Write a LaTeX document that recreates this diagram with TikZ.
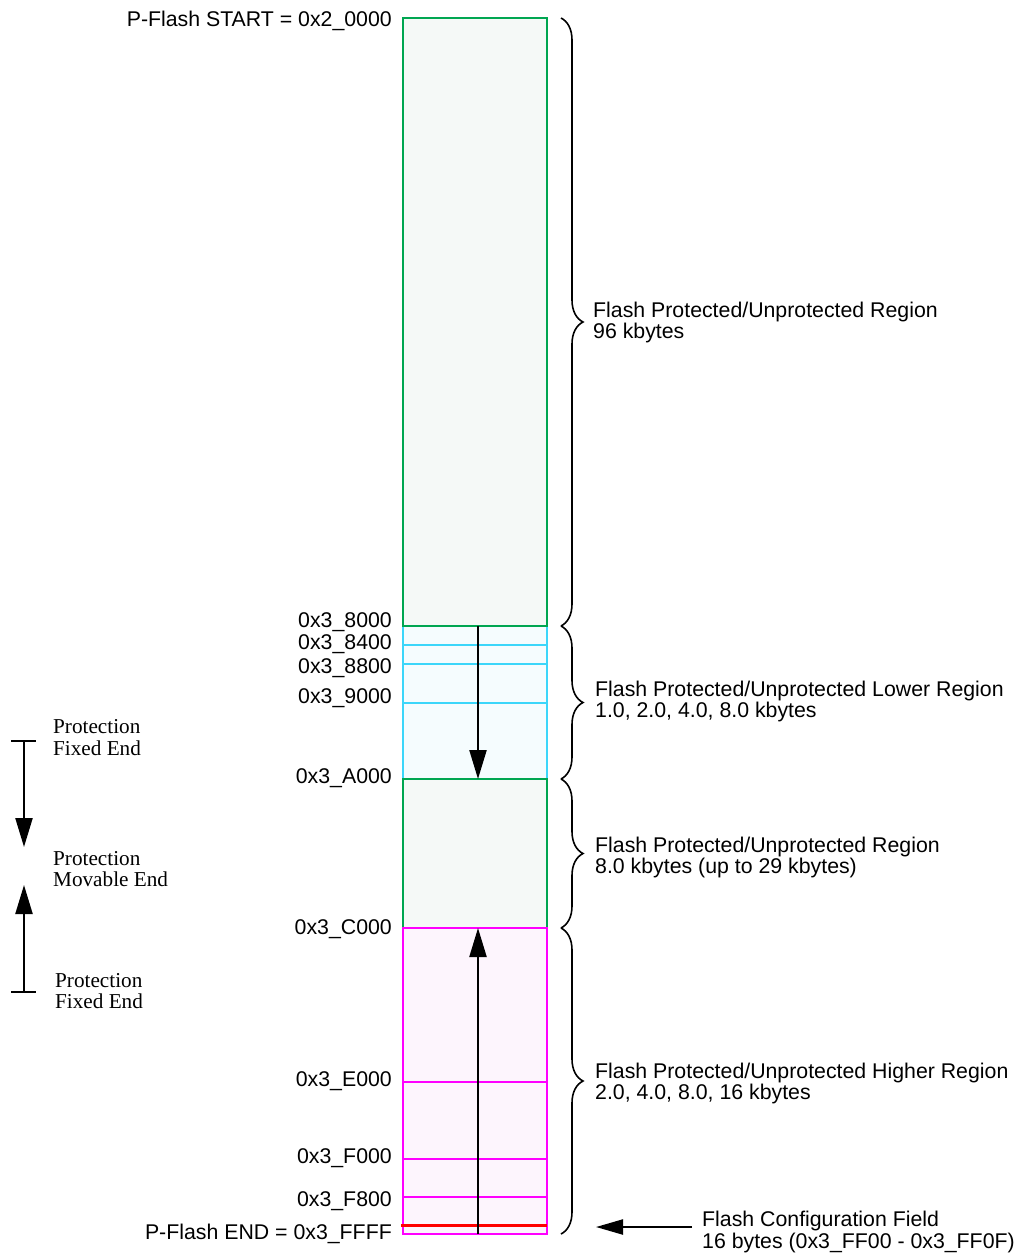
\documentclass[tikz,border=0pt]{standalone}
\usepackage{fontspec}
\setmainfont{Liberation Sans}
\newfontfamily\timesf{Liberation Serif}
\usetikzlibrary{arrows.meta,decorations.pathreplacing}
\definecolor{grn}{RGB}{0,166,81}
\definecolor{grnfill}{RGB}{245,249,247}
\definecolor{cyn}{RGB}{60,214,250}
\definecolor{cynfill}{RGB}{245,252,254}
\definecolor{mag}{RGB}{255,0,255}
\definecolor{magfill}{RGB}{253,245,253}
\begin{document}
\begin{tikzpicture}[x=1pt,y=-1pt,
  addr/.style={anchor=base east, inner sep=0pt, font=\fontsize{21.3}{21}\selectfont},
  desc/.style={anchor=base west, inner sep=0pt, font=\fontsize{21.3}{21}\selectfont},
  side/.style={anchor=base west, inner sep=0pt, font=\timesf\fontsize{21.2}{22}\selectfont},
  grnbox/.style={draw=grn, fill=grnfill, line width=2pt},
  cynbox/.style={draw=cyn, fill=cynfill, line width=2pt},
  magbox/.style={draw=mag, fill=magfill, line width=2pt},
  cynline/.style={draw=cyn, line width=2pt},
  magline/.style={draw=mag, line width=2pt},
  bigarrow/.style={line width=2.2pt, -{Triangle[length=29pt,width=17pt]}},
  brc/.style={decorate, decoration={brace, amplitude=22pt}, line width=1.6pt},
  bar/.style={line width=2.2pt}
]
\useasboundingbox (0,0) rectangle (1018,1255);

% memory map blocks
\path[cynbox] (403,626) rectangle (547,779);
\path[cynline] (403,645) -- (547,645);
\path[cynline] (403,664) -- (547,664);
\path[cynline] (403,703) -- (547,703);
\path[grnbox] (403,18) rectangle (547,626);
\path[grnbox] (403,779) rectangle (547,928);
\path[magbox] (403,928) rectangle (547,1234);
\path[magline] (403,1082) -- (547,1082);
\path[magline] (403,1159) -- (547,1159);
\path[magline] (403,1197) -- (547,1197);
\draw[red, line width=3.2pt] (401,1225.5) -- (547,1225.5);

% arrows inside map
\coordinate (dA) at (478,626);
\coordinate (dB) at (478,779);
\coordinate (uA) at (478,1234);
\coordinate (uB) at (478,928);
\draw[bigarrow] (dA) -- (dB);
\draw[bigarrow] (uA) -- (uB);

% address labels
\node[addr] (a0) at (392,27) {P-Flash START = 0x2\_0000};
\node[addr] (a1) at (392,627) {0x3\_8000};
\node[addr] (a2) at (392,649) {0x3\_8400};
\node[addr] (a3) at (392,673) {0x3\_8800};
\node[addr] (a4) at (392,703) {0x3\_9000};
\node[addr] (a5) at (392,783) {0x3\_A000};
\node[addr] (a6) at (392,934) {0x3\_C000};
\node[addr] (a7) at (392,1086) {0x3\_E000};
\node[addr] (a8) at (392,1163) {0x3\_F000};
\node[addr] (a9) at (392,1206) {0x3\_F800};
\node[addr] (a10) at (392,1239) {P-Flash END = 0x3\_FFFF};

% braces
\draw[brc] (561,18) -- (561,626);
\draw[brc] (561,626) -- (561,779);
\draw[brc] (561,779) -- (561,928);
\draw[brc] (561,928) -- (561,1234);

% region descriptions
\node[desc] (r1a) at (593,317) {Flash Protected/Unprotected Region};
\node[desc] (r1b) at (593,338) {96 kbytes};
\node[desc] (r2a) at (595,696) {Flash Protected/Unprotected Lower Region};
\node[desc] (r2b) at (595,717) {1.0, 2.0, 4.0, 8.0 kbytes};
\node[desc] (r3a) at (595,852) {Flash Protected/Unprotected Region};
\node[desc] (r3b) at (595,873) {8.0 kbytes (up to 29 kbytes)};
\node[desc] (r4a) at (595,1078) {Flash Protected/Unprotected Higher Region};
\node[desc] (r4b) at (595,1099) {2.0, 4.0, 8.0, 16 kbytes};
\node[desc] (r5a) at (702,1226) {Flash Configuration Field};
\node[desc] (r5b) at (702,1248) {16 bytes (0x3\_FF00 - 0x3\_FF0F)};

\coordinate (cfgA) at (692,1227);
\coordinate (cfgB) at (596,1227);
\draw[line width=2.2pt, -{Triangle[length=27pt,width=15pt]}] (cfgA) -- (cfgB);

% left legend
\node[side] (l1a) at (53,733) {Protection};
\node[side] (l1b) at (53,755) {Fixed End};
\node[side] (l2a) at (53,865) {Protection};
\node[side] (l2b) at (53,886) {Movable End};
\node[side] (l3a) at (55,987) {Protection};
\node[side] (l3b) at (55,1008) {Fixed End};

\coordinate (b1L) at (11,741);
\coordinate (b1R) at (36,741);
\coordinate (b1M) at (24,741);
\coordinate (t1) at (24,847);
\coordinate (b2L) at (11,992);
\coordinate (b2R) at (36,992);
\coordinate (b2M) at (24,992);
\coordinate (t2) at (24,885);
\draw[bar] (b1L) -- (b1R);
\draw[bar] (b2L) -- (b2R);
\draw[bigarrow] (b1M) -- (t1);
\draw[bigarrow] (b2M) -- (t2);
\end{tikzpicture}
\end{document}
